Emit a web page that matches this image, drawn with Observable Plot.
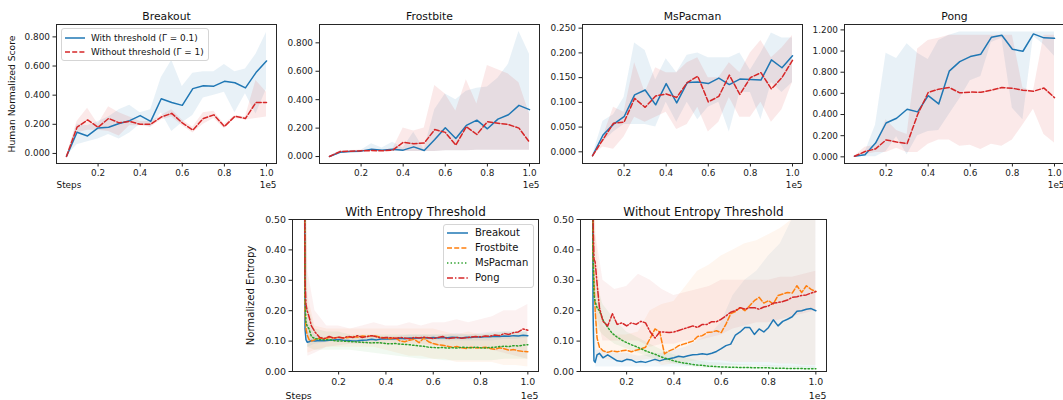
<!DOCTYPE html>
<html><head><meta charset="utf-8">
<script src="https://cdn.jsdelivr.net/npm/d3@7"></script>
<script src="https://cdn.jsdelivr.net/npm/@observablehq/plot@0.6"></script>
<style>
body{margin:0;background:#fff;font-family:"DejaVu Sans",sans-serif;}
#root{position:relative;width:1063px;height:400px;overflow:hidden;background:#fff;}
.panel{position:absolute;}
.legend{position:absolute;background:rgba(255,255,255,0.85);border:1px solid #d5d5d5;border-radius:3px;box-sizing:border-box;}
.lrow{position:absolute;white-space:nowrap;color:#111;}
</style></head><body><div id="root"></div>
<script>
// ---------- top row: human normalized score ----------
const steps = [0.05,0.10,0.15,0.20,0.25,0.30,0.35,0.40,0.45,0.50,0.55,0.60,0.65,0.70,0.75,0.80,0.85,0.90,0.95,1.00];
const games = ["Breakout","Frostbite","MsPacman","Pong"];
const legendTop = ["With threshold (Γ = 0.1)","Without threshold (Γ = 1)"];

const breakoutWith    = [-0.02,0.145,0.12,0.175,0.18,0.205,0.225,0.26,0.22,0.375,0.35,0.33,0.445,0.465,0.462,0.495,0.485,0.45,0.555,0.635];
const breakoutWithLo  = [-0.02,0.06,0.08,0.1,0.13,0.1,0.14,0.2,0.18,0.28,0.15,0.21,0.26,0.38,0.4,0.42,0.28,0.41,0.27,0.44];
const breakoutWithHi  = [-0.02,0.2,0.19,0.22,0.25,0.3,0.33,0.28,0.3,0.52,0.64,0.46,0.55,0.56,0.56,0.61,0.56,0.58,0.68,0.83];
const breakoutWo      = [-0.02,0.18,0.23,0.18,0.24,0.21,0.22,0.2,0.2,0.25,0.275,0.21,0.16,0.24,0.265,0.185,0.255,0.24,0.35,0.35];
const breakoutWoLo    = [-0.02,0.14,0.16,0.16,0.15,0.12,0.19,0.19,0.18,0.23,0.25,0.19,0.14,0.2,0.24,0.17,0.24,0.23,0.24,0.25];
const breakoutWoHi    = [-0.02,0.22,0.31,0.2,0.32,0.28,0.25,0.22,0.22,0.26,0.3,0.23,0.18,0.28,0.29,0.2,0.26,0.25,0.5,0.42];

const frostWith   = [0,0.03,0.035,0.038,0.052,0.045,0.052,0.045,0.068,0.042,0.12,0.202,0.127,0.219,0.256,0.195,0.263,0.294,0.36,0.33];
const frostWithLo = [0,0.025,0.03,0.033,0.035,0.035,0.035,0.035,0.035,0.035,0.035,0.04,0.04,0.04,0.045,0.045,0.045,0.045,0.045,0.045];
const frostWithHi = [0,0.035,0.04,0.045,0.09,0.06,0.1,0.06,0.17,0.05,0.33,0.44,0.4,0.46,0.48,0.49,0.55,0.65,0.88,0.72];
const frostWo     = [0,0.035,0.038,0.04,0.042,0.04,0.045,0.1,0.09,0.095,0.19,0.17,0.08,0.21,0.155,0.245,0.235,0.225,0.2,0.1];
const frostWoLo   = [0,0.03,0.033,0.035,0.035,0.035,0.035,0.035,0.035,0.035,0.035,0.04,0.04,0.04,0.045,0.045,0.045,0.045,0.045,0.045];
const frostWoHi   = [0,0.04,0.042,0.045,0.05,0.045,0.05,0.2,0.18,0.2,0.5,0.44,0.32,0.54,0.37,0.64,0.61,0.58,0.52,0.3];

const pacWith   = [-0.008,0.034,0.056,0.071,0.115,0.125,0.095,0.138,0.099,0.14,0.141,0.138,0.149,0.136,0.147,0.146,0.145,0.186,0.17,0.194];
const pacWithLo = [-0.008,0.02,0.04,0.055,0.055,0.055,0.05,0.1,0.06,0.1,0.065,0.09,0.1,0.04,0.12,0.12,0.065,0.14,0.12,0.14];
const pacWithHi = [-0.008,0.062,0.075,0.11,0.22,0.205,0.145,0.188,0.16,0.195,0.2,0.19,0.19,0.19,0.2,0.165,0.2,0.24,0.23,0.23];
const pacWo     = [-0.008,0.025,0.058,0.06,0.108,0.09,0.113,0.117,0.11,0.14,0.153,0.101,0.112,0.155,0.116,0.15,0.16,0.127,0.15,0.185];
const pacWoLo   = [-0.008,0.01,0.005,0.03,0.07,0.06,0.07,0.08,0.045,0.055,0.09,0.04,0.06,0.11,0.07,0.07,0.1,0.06,0.085,0.14];
const pacWoHi   = [-0.008,0.03,0.09,0.08,0.18,0.12,0.17,0.16,0.16,0.18,0.19,0.15,0.15,0.18,0.16,0.2,0.225,0.19,0.21,0.235];

const pongWith   = [0.005,0.02,0.13,0.32,0.365,0.45,0.425,0.578,0.5,0.81,0.9,0.948,0.97,1.13,1.15,1.017,0.998,1.162,1.125,1.12];
const pongWithLo = [0.005,0.0,0.0,0.05,0.19,0.02,0.2,0.24,0.25,0.4,0.55,0.72,0.76,1.08,1.12,0.46,0.35,1.14,1.06,0.95];
const pongWithHi = [0.005,0.04,0.3,0.98,0.93,1.07,0.98,0.92,1.1,1.15,1.18,1.18,1.18,1.18,1.18,1.18,1.18,1.18,1.18,1.18];
const pongWo     = [0.005,0.05,0.075,0.16,0.14,0.125,0.4,0.608,0.64,0.655,0.605,0.612,0.61,0.63,0.655,0.648,0.63,0.62,0.65,0.56];
const pongWoLo   = [0.005,0.02,0.04,0.04,0.08,0.04,0.04,0.12,0.16,0.16,0.1,0.11,0.07,0.12,0.1,0.16,0.3,0.45,0.21,0.13];
const pongWoHi   = [0.005,0.09,0.11,0.35,0.25,0.21,1.02,1.1,1.12,1.15,1.15,1.15,1.15,1.15,1.15,1.15,0.65,0.62,1.15,1.15];

// ---------- bottom row: normalized entropy ----------
const entTitles = ["With Entropy Threshold","Without Entropy Threshold"];
const entX = [0.055,0.058,0.062,0.067,0.075,0.085,0.1,
  0.12,0.14,0.16,0.18,0.2,0.22,0.24,0.26,0.28,
  0.3,0.32,0.34,0.36,0.38,0.4,0.42,0.44,0.46,
  0.48,0.5,0.52,0.54,0.56,0.58,0.6,0.62,0.64,
  0.66,0.68,0.7,0.72,0.74,0.76,0.78,0.8,0.82,
  0.84,0.86,0.88,0.9,0.92,0.94,0.96,0.98,1.0];

const entWBreakout = [0.9,0.14,0.105,0.096,0.098,0.102,0.1,
  0.102,0.101,0.103,0.104,0.105,0.103,0.102,0.1,0.101,
  0.103,0.104,0.106,0.104,0.107,0.108,0.107,0.108,0.109,
  0.108,0.11,0.109,0.11,0.111,0.11,0.112,0.11,0.112,
  0.111,0.113,0.112,0.11,0.113,0.112,0.114,0.113,0.115,
  0.114,0.116,0.115,0.117,0.116,0.118,0.117,0.119,0.118];
const entWFrostbite = [0.9,0.2,0.14,0.12,0.105,0.1,0.105,
  0.11,0.108,0.112,0.11,0.113,0.11,0.112,0.115,0.113,
  0.117,0.115,0.118,0.116,0.112,0.11,0.108,0.111,0.1,
  0.098,0.103,0.106,0.095,0.11,0.098,0.092,0.088,0.086,
  0.083,0.08,0.082,0.078,0.076,0.08,0.077,0.078,0.08,
  0.076,0.073,0.078,0.075,0.07,0.072,0.068,0.066,0.065];
const entWMsPacman = [0.9,0.25,0.16,0.15,0.14,0.115,0.108,
  0.105,0.104,0.105,0.102,0.1,0.1,0.099,0.098,0.097,
  0.096,0.095,0.094,0.095,0.094,0.092,0.091,0.092,0.09,
  0.089,0.088,0.086,0.084,0.083,0.08,0.079,0.078,0.079,
  0.077,0.078,0.077,0.08,0.079,0.078,0.08,0.078,0.077,
  0.079,0.08,0.082,0.083,0.082,0.085,0.084,0.087,0.088];
const entWPong = [0.9,0.3,0.22,0.2,0.18,0.15,0.13,
  0.112,0.108,0.115,0.11,0.113,0.11,0.116,0.112,0.118,
  0.112,0.115,0.118,0.114,0.11,0.112,0.111,0.109,0.112,
  0.11,0.108,0.112,0.11,0.113,0.111,0.108,0.112,0.115,
  0.108,0.11,0.112,0.109,0.111,0.113,0.115,0.114,0.117,
  0.116,0.12,0.118,0.125,0.122,0.128,0.13,0.14,0.136];

const entOBreakout = [0.9,0.2,0.035,0.03,0.055,0.06,0.045,
  0.055,0.045,0.035,0.033,0.04,0.038,0.03,0.033,0.03,
  0.035,0.04,0.035,0.04,0.042,0.045,0.05,0.048,0.052,
  0.055,0.056,0.058,0.056,0.06,0.066,0.075,0.085,0.09,
  0.12,0.13,0.145,0.145,0.122,0.14,0.13,0.145,0.17,
  0.15,0.165,0.172,0.18,0.198,0.2,0.205,0.207,0.2];
const entOFrostbite = [0.9,0.38,0.3,0.2,0.11,0.08,0.068,
  0.063,0.068,0.065,0.068,0.07,0.065,0.07,0.074,0.08,
  0.11,0.14,0.13,0.058,0.068,0.074,0.085,0.09,0.095,
  0.1,0.115,0.118,0.128,0.13,0.134,0.128,0.156,0.19,
  0.197,0.21,0.2,0.216,0.233,0.244,0.225,0.233,0.222,
  0.25,0.255,0.26,0.258,0.282,0.26,0.282,0.27,0.263];
const entOMsPacman = [0.9,0.4,0.25,0.23,0.21,0.2,0.17,
  0.145,0.125,0.113,0.103,0.095,0.088,0.082,0.075,0.068,
  0.062,0.057,0.05,0.044,0.04,0.035,0.031,0.028,0.026,
  0.023,0.021,0.02,0.018,0.017,0.016,0.015,0.015,0.014,
  0.014,0.013,0.013,0.013,0.012,0.012,0.012,0.012,0.011,
  0.011,0.011,0.01,0.01,0.01,0.01,0.009,0.009,0.009];
const entOPong = [0.9,0.5,0.37,0.36,0.29,0.21,0.165,
  0.15,0.19,0.155,0.16,0.15,0.16,0.155,0.165,0.16,
  0.13,0.11,0.13,0.13,0.128,0.13,0.135,0.14,0.145,
  0.15,0.145,0.155,0.155,0.164,0.164,0.172,0.183,0.195,
  0.2,0.21,0.205,0.21,0.21,0.205,0.212,0.216,0.225,
  0.227,0.23,0.235,0.244,0.246,0.25,0.252,0.258,0.263];

// entropy bands (coarser grid)
const bandX = [0.055,0.07,0.1,0.15,0.2,0.25,0.3,0.35,0.4,0.45,0.5,0.55,0.6,0.65,0.7,0.75,0.8,0.85,0.9,0.95,1.0];
const bWBreakoutLo = [0.6,0.08,0.09,0.095,0.1,0.1,0.095,0.1,0.1,0.1,0.1,0.1,0.1,0.1,0.1,0.1,0.1,0.1,0.105,0.105,0.11];
const bWBreakoutHi = [1,0.16,0.12,0.11,0.11,0.11,0.11,0.115,0.115,0.115,0.12,0.12,0.12,0.12,0.125,0.12,0.125,0.13,0.13,0.13,0.13];
const bWFrostLo = [0.6,0.06,0.07,0.08,0.08,0.08,0.08,0.08,0.07,0.06,0.05,0.05,0.04,0.04,0.03,0.03,0.03,0.03,0.02,0.02,0.015];
const bWFrostHi = [1,0.25,0.15,0.14,0.14,0.14,0.14,0.14,0.14,0.14,0.14,0.14,0.14,0.13,0.12,0.13,0.12,0.12,0.12,0.12,0.12];
const bWPacLo = [0.6,0.08,0.07,0.07,0.07,0.07,0.065,0.06,0.055,0.05,0.045,0.04,0.04,0.035,0.035,0.035,0.035,0.035,0.04,0.04,0.04];
const bWPacHi = [1,0.22,0.14,0.13,0.13,0.12,0.12,0.12,0.12,0.12,0.12,0.12,0.12,0.12,0.12,0.12,0.12,0.125,0.13,0.13,0.13];
const bWPongLo = [0.6,0.05,0.06,0.08,0.085,0.09,0.09,0.09,0.09,0.09,0.09,0.09,0.085,0.08,0.08,0.08,0.08,0.07,0.06,0.05,0.04];
const bWPongHi = [1,0.33,0.2,0.15,0.15,0.14,0.15,0.16,0.15,0.15,0.16,0.15,0.16,0.16,0.17,0.16,0.17,0.18,0.2,0.2,0.22];

const bOBreakoutLo = [0.6,0.015,0.015,0.015,0.015,0.015,0.015,0.015,0.015,0.015,0.02,0.02,0.02,0.02,0.02,0.02,0.015,0.015,0.015,0.012,0.01];
const bOBreakoutHi = [1,0.07,0.07,0.06,0.06,0.05,0.055,0.06,0.07,0.08,0.1,0.12,0.16,0.25,0.3,0.33,0.38,0.42,0.5,0.6,0.6];
const bOFrostLo = [0.6,0.05,0.04,0.035,0.035,0.035,0.04,0.02,0.025,0.03,0.035,0.035,0.035,0.03,0.03,0.03,0.03,0.025,0.025,0.02,0.02];
const bOFrostHi = [1,0.45,0.15,0.12,0.12,0.13,0.2,0.22,0.23,0.28,0.33,0.35,0.38,0.4,0.42,0.43,0.45,0.47,0.5,0.52,0.5];
const bOPacLo = [0.6,0.15,0.12,0.09,0.075,0.06,0.045,0.035,0.025,0.018,0.012,0.01,0.008,0.007,0.006,0.006,0.005,0.005,0.005,0.004,0.004];
const bOPacHi = [1,0.3,0.22,0.17,0.13,0.11,0.09,0.07,0.055,0.045,0.035,0.03,0.028,0.025,0.022,0.02,0.02,0.018,0.017,0.016,0.015];
const bOPongLo = [0.6,0.2,0.1,0.1,0.1,0.1,0.08,0.09,0.09,0.1,0.1,0.11,0.12,0.14,0.15,0.16,0.16,0.17,0.18,0.19,0.2];
const bOPongHi = [1,0.45,0.3,0.27,0.28,0.32,0.3,0.27,0.25,0.26,0.27,0.28,0.3,0.3,0.3,0.3,0.3,0.31,0.31,0.32,0.33];

// ---------- styling ----------
const C = {blue:"#1f77b4", orange:"#ff7f0e", green:"#2ca02c", red:"#d62728"};
const DASH = {solid:null, dashed:"5,2.2", dotted:"1.4,2.2", dashdot:"6,2,1.4,2"};
const root = document.getElementById("root");

const pts = (xs, ys) => xs.map((x,i) => ({x, y: ys[i]}));
const band = (xs, lo, hi) => xs.map((x,i) => ({x, lo: lo[i], hi: hi[i]}));

function panel(o) {
  const ml = o.ml, mr = 12, mt = o.mt, mb = o.mb;
  const marks = [];
  for (const s of o.series) {
    marks.push(Plot.areaY(band(s.bx, s.lo, s.hi), {x:"x", y1:"lo", y2:"hi", fill:s.color, fillOpacity:o.bandOpacity, clip:true}));
  }
  for (const s of o.series) {
    marks.push(Plot.line(pts(s.lx, s.y), {x:"x", y:"y", stroke:s.color, strokeWidth:1.5, strokeDasharray:s.dash, clip:true}));
  }
  marks.push(Plot.frame({stroke:"#262626", strokeWidth:1}));
  marks.push(Plot.text([o.title], {frameAnchor:"top", text:d=>d, dy:-o.titleGap, lineAnchor:"bottom", fontSize:o.titleSize, fill:"#111"}));
  marks.push(Plot.text(["1e5"], {frameAnchor:"bottom-right", text:d=>d, dy:o.stepsGap, textAnchor:"end", lineAnchor:"middle", fontSize:o.tickSize, fill:"#111"}));
  if (o.steps) marks.push(Plot.text(["Steps"], {frameAnchor:"bottom-left", text:d=>d, dy:o.stepsGap, dx:o.stepsDx, textAnchor:"start", lineAnchor:"middle", fontSize:o.tickSize, fill:"#111"}));
  if (o.ylabel) marks.push(Plot.text([o.ylabel], {frameAnchor:"left", text:d=>d, dx:-o.ylabelGap, rotate:-90, textAnchor:"middle", lineAnchor:"middle", fontSize:o.labelSize, fill:"#111"}));
  const fig = Plot.plot({
    width: ml + o.fw + mr, height: mt + o.fh + mb,
    marginLeft: ml, marginRight: mr, marginTop: mt, marginBottom: mb,
    x: {domain:o.xdomain, ticks:[0.2,0.4,0.6,0.8,1.0], tickFormat:d3.format(".1f"), tickSize:3.5, tickPadding:3, label:null},
    y: {domain:o.ydomain, ticks:o.yticks, tickFormat:d3.format(o.yfmt), tickSize:3.5, tickPadding:3, label:null},
    style: {background:"transparent", fontFamily:"'DejaVu Sans', sans-serif", fontSize:o.tickSize+"px", color:"#222", overflow:"visible"},
    marks
  });
  fig.classList.add("panel");
  fig.style.left = (o.fx - ml) + "px";
  fig.style.top = (o.fy - mt) + "px";
  fig.style.maxWidth = "none";
  root.appendChild(fig);
}

// top row
const topCfg = [
  {title:games[0], fx:56, ydomain:[-0.069,0.885], yticks:[0,0.2,0.4,0.6,0.8], yfmt:".3f",
   w:[breakoutWith,breakoutWithLo,breakoutWithHi], o:[breakoutWo,breakoutWoLo,breakoutWoHi], steps:true, ylabel:"Human Normalized Score"},
  {title:games[1], fx:319, ydomain:[-0.049,0.929], yticks:[0,0.2,0.4,0.6,0.8], yfmt:".3f",
   w:[frostWith,frostWithLo,frostWithHi], o:[frostWo,frostWoLo,frostWoHi]},
  {title:games[2], fx:581.5, ydomain:[-0.0236,0.2574], yticks:[0,0.05,0.1,0.15,0.2,0.25], yfmt:".3f",
   w:[pacWith,pacWithLo,pacWithHi], o:[pacWo,pacWoLo,pacWoHi]},
  {title:games[3], fx:844, ydomain:[-0.063,1.251], yticks:[0,0.2,0.4,0.6,0.8,1.0,1.2], yfmt:".3f",
   w:[pongWith,pongWithLo,pongWithHi], o:[pongWo,pongWoLo,pongWoHi]}
];
for (const c of topCfg) {
  panel({
    title:c.title, fx:c.fx, fy:24, fw:220, fh:139, ml:c.fx < 60 ? c.fx : 60, mt:24, mb:37,
    xdomain:[0.0025,1.0475], ydomain:c.ydomain, yticks:c.yticks, yfmt:c.yfmt,
    tickSize:8.9, titleSize:10.8, labelSize:9.2, titleGap:5, stepsGap:22, stepsDx:0,
    steps:c.steps, ylabel:c.ylabel, ylabelGap:44, bandOpacity:0.1,
    series:[
      {bx:steps, lo:c.w[1], hi:c.w[2], lx:steps, y:c.w[0], color:C.blue, dash:DASH.solid},
      {bx:steps, lo:c.o[1], hi:c.o[2], lx:steps, y:c.o[0], color:C.red, dash:DASH.dashed}
    ]
  });
}

// bottom row
const entSeriesW = [
  {lo:bWBreakoutLo, hi:bWBreakoutHi, y:entWBreakout, color:C.blue, dash:DASH.solid},
  {lo:bWFrostLo, hi:bWFrostHi, y:entWFrostbite, color:C.orange, dash:DASH.dashed},
  {lo:bWPacLo, hi:bWPacHi, y:entWMsPacman, color:C.green, dash:DASH.dotted},
  {lo:bWPongLo, hi:bWPongHi, y:entWPong, color:C.red, dash:DASH.dashdot}
];
const entSeriesO = [
  {lo:bOBreakoutLo, hi:bOBreakoutHi, y:entOBreakout, color:C.blue, dash:DASH.solid},
  {lo:bOFrostLo, hi:bOFrostHi, y:entOFrostbite, color:C.orange, dash:DASH.dashed},
  {lo:bOPacLo, hi:bOPacHi, y:entOMsPacman, color:C.green, dash:DASH.dotted},
  {lo:bOPongLo, hi:bOPongHi, y:entOPong, color:C.red, dash:DASH.dashdot}
];
[[entTitles[0], 292, entSeriesW, true], [entTitles[1], 580, entSeriesO, false]].forEach(([t, fx, ser, first]) => {
  panel({
    title:t, fx, fy:219, fw:246, fh:152, ml:60, mt:19, mb:29,
    xdomain:[0.005,1.045], ydomain:[0,0.5], yticks:[0,0.1,0.2,0.3,0.4,0.5], yfmt:".2f",
    tickSize:9.4, titleSize:12, labelSize:10.1, titleGap:4, stepsGap:24, stepsDx:-7,
    steps:first, ylabel:first ? "Normalized Entropy" : null, ylabelGap:42, bandOpacity:0.065,
    series: ser.map(s => ({bx:bandX, lo:s.lo, hi:s.hi, lx:entX, y:s.y, color:s.color, dash:s.dash}))
  });
});

// legends (HTML overlays)
function legend(box, entries, fontSize) {
  const d = document.createElement("div");
  d.className = "legend";
  Object.assign(d.style, {left:box.x+"px", top:box.y+"px", width:box.w+"px", height:box.h+"px"});
  entries.forEach((e, i) => {
    const cy = box.row0 + i*box.step;
    const sw = document.createElementNS("http://www.w3.org/2000/svg","svg");
    sw.setAttribute("width", box.sw); sw.setAttribute("height", 8);
    Object.assign(sw.style, {position:"absolute", left:(box.swx)+"px", top:(cy-4)+"px"});
    const ln = document.createElementNS("http://www.w3.org/2000/svg","line");
    ln.setAttribute("x1",0); ln.setAttribute("x2",box.sw); ln.setAttribute("y1",4); ln.setAttribute("y2",4);
    ln.setAttribute("stroke", e.color); ln.setAttribute("stroke-width", 1.5);
    if (e.dash) ln.setAttribute("stroke-dasharray", e.dash);
    sw.appendChild(ln); d.appendChild(sw);
    const s = document.createElement("div");
    s.className = "lrow"; s.textContent = e.label;
    Object.assign(s.style, {left:box.tx+"px", top:(cy-8)+"px", height:"16px", lineHeight:"16px", fontSize:fontSize+"px"});
    d.appendChild(s);
  });
  root.appendChild(d);
}
legend({x:61, y:28, w:148, h:33, row0:9, step:14.4, swx:3, sw:20, tx:29}, [
  {label:legendTop[0], color:C.blue, dash:null},
  {label:legendTop[1], color:C.red, dash:DASH.dashed}
], 8.9);
legend({x:443, y:224, w:91, h:64, row0:8, step:15, swx:3, sw:21, tx:31}, [
  {label:games[0], color:C.blue, dash:null},
  {label:games[1], color:C.orange, dash:DASH.dashed},
  {label:games[2], color:C.green, dash:DASH.dotted},
  {label:games[3], color:C.red, dash:DASH.dashdot}
], 10);
</script></body></html>
